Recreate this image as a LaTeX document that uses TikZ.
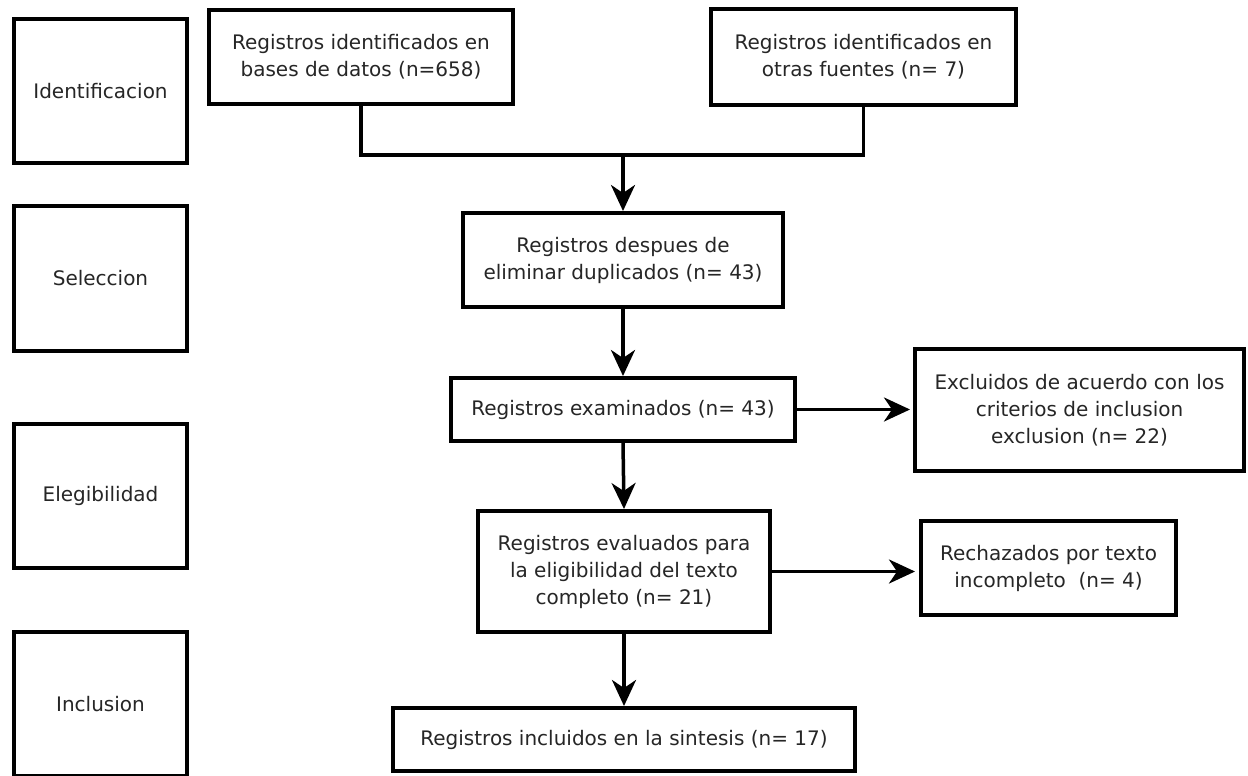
\documentclass[tikz,border=0pt]{standalone}
\usepackage{fontspec}
\setmainfont{DejaVu Sans}
\usetikzlibrary{arrows.meta}
\begin{document}
\begin{tikzpicture}[x=1pt,y=-1pt,
  box/.style={draw=black, line width=4pt, fill=white, inner sep=0pt, align=center,
    font=\fontsize{20}{27}\selectfont, text=black!85},
  conn/.style={line width=3.5pt},
  arr/.style={conn, -{Stealth[length=26pt,width=24pt,inset=8pt]}}]
\clip (0,0) rectangle (1248,776);
\fill[white] (0,0) rectangle (1248,776);
% phase boxes
\node[box, minimum width=173pt, minimum height=144pt] (ident) at (100.5,91) {Identificacion};
\node[box, minimum width=173pt, minimum height=145pt] (selec) at (100.5,278.5) {Seleccion};
\node[box, minimum width=173pt, minimum height=144pt] (eleg) at (100.5,496) {Elegibilidad};
\node[box, minimum width=173pt, minimum height=144pt] (inclu) at (100.5,704) {Inclusion};
% flow boxes
\node[box, minimum width=304pt, minimum height=94pt] (bases) at (361,57) {Registros identificados en\\bases de datos (n=658)};
\node[box, minimum width=305pt, minimum height=96pt] (otras) at (863.5,57) {Registros identificados en\\otras fuentes (n= 7)};
\node[box, minimum width=320pt, minimum height=94pt] (desp) at (623,260) {Registros despues de\\eliminar duplicados (n= 43)};
\node[box, minimum width=344pt, minimum height=63pt] (exam) at (623,409.5) {Registros examinados (n= 43)};
\node[box, minimum width=292pt, minimum height=121pt] (eval) at (624,571.5) {Registros evaluados para\\la eligibilidad del texto\\completo (n= 21)};
\node[box, minimum width=462pt, minimum height=63pt] (final) at (624,739.5) {Registros incluidos en la sintesis (n= 17)};
\node[box, minimum width=329pt, minimum height=122pt] (excl) at (1079.5,410) {Excluidos de acuerdo con los\\criterios de inclusion\\exclusion (n= 22)};
\node[box, minimum width=255pt, minimum height=94pt] (rech) at (1048.5,568) {Rechazados por texto\\incompleto\ \ (n= 4)};
% connectors
\coordinate (junc) at (623,155);
\draw[conn] (bases.south) |- (junc) -| (otras.south);
\draw[arr] (junc) -- (desp.north);
\draw[arr] (desp.south) -- (exam.north);
\draw[arr] (exam.south) -- (eval.north);
\draw[arr] (eval.south) -- (final.north);
\draw[arr, shorten >=3pt] (exam.east) -- (exam.east -| excl.west);
\draw[arr, shorten >=4pt] (eval.east) -- (eval.east -| rech.west);
\end{tikzpicture}
\end{document}
